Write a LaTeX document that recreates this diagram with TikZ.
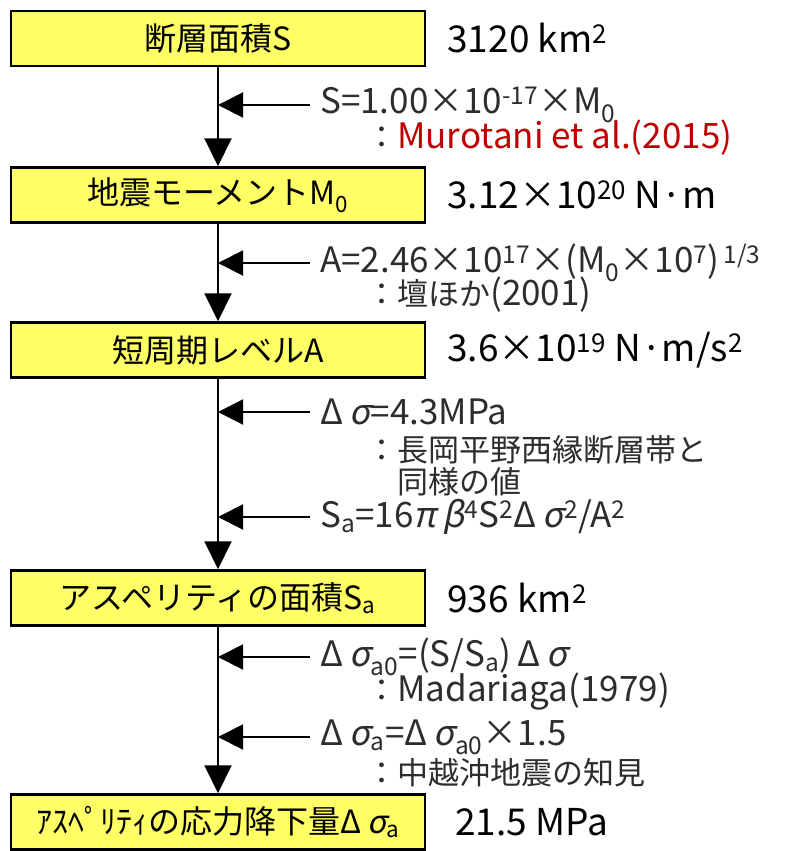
\documentclass[tikz,border=0pt]{standalone}
\usepackage{fontspec}
\setmainfont{Noto Sans CJK JP}
\newfontfamily\slgreek[FakeSlant=0.2]{Noto Sans CJK JP}
\usepackage{xcolor}
\usepackage{tikz}
\usetikzlibrary{arrows.meta,positioning}
\definecolor{boxyellow}{RGB}{255,255,102}
\definecolor{formulagray}{RGB}{45,45,45}
\definecolor{refred}{RGB}{192,0,0}
\newcommand\supx[1]{\textsuperscript{#1}}
\newcommand\subx[1]{\textsubscript{#1}}
\newcommand\sig{{\slgreek σ}}
\newcommand\dsig{Δ\hspace{0.18em}\sig}
\newcommand\lat[1]{{\fontsize{35}{32}\selectfont #1}}

\begin{document}
\begin{tikzpicture}[x=1pt, y=-1pt,
  node distance=21pt,
  box/.style={draw, line width=2.5pt, fill=boxyellow, minimum width=414pt,
    minimum height=55pt, inner sep=0pt, font=\fontsize{32}{36}\selectfont},
  val/.style={inner sep=0pt, font=\fontsize{37}{40}\selectfont},
  formula/.style={anchor=west, inner xsep=10pt, inner ysep=0pt, text=formulagray,
    font=\fontsize{35}{34}\selectfont},
  src/.style={anchor=west, inner sep=0pt, align=left, text=formulagray,
    font=\fontsize{31}{32}\selectfont},
  arr/.style={-{Triangle[length=28pt,width=27pt]}, line width=2pt},
  sidearr/.style={-{Triangle[length=25pt,width=25pt]}, line width=2pt}
]
\useasboundingbox (0,0) rectangle (792,851);
\node[box] (area) at (218,38.5) {断層面積S};
\node[box] (moment) at (218,195) {地震モーメントM\subx{0}};
\node[box] (level) at (218,350) {短周期レベルA};
\node[box] (asparea) at (218,598) {アスペリティの面積S\subx{a}};
\node[box] (aspdrop) at (218,822) {ｱｽﾍﾟﾘﾃｨの応力降下量\dsig\subx{a}};
\node[val, right=of area] (areaval) {3120 km\supx{2}};
\node[val, right=of moment] (momentval) {3.12×10\supx{20} N·m};
\node[val, right=of level] (levelval) {3.6×10\supx{19} N·m/s\supx{2}};
\node[val, right=of asparea] (aspareaval) {936 km\supx{2}};
\node[val, right=29pt of aspdrop] (aspdropval) {21.5 MPa};
\node[formula] (fm1) at (310,105) {S=1.00×10\supx{-17}×M\subx{0}};
\node[src] (rf1) at (366,138) {：\textcolor{refred}{\lat{Murotani et al.(2015)}}};
\node[formula] (fm2) at (310,263) {A=2.46×10\supx{17}×(M\subx{0}×10\supx{7})\supx{\,1/3}};
\node[src] (rf2) at (366,295) {：壇ほか\lat{(2001)}};
\node[formula] (fm3) at (310,412) {\dsig=4.3MPa};
\node[src] (rf3) at (366,466) {：長岡平野西縁断層帯と\\　同様の値};
\node[formula] (fm4) at (310,517) {S\subx{a}=16{\slgreek π}\,{\slgreek β}\supx{4}S\supx{2}\dsig\supx{2}/A\supx{2}};
\node[formula] (fm5) at (310,657) {\dsig\subx{a0}=(S/S\subx{a})\,\dsig};
\node[src] (rf5) at (366,692) {：\lat{Madariaga(1979)}};
\node[formula] (fm6) at (310,737) {\dsig\subx{a}=\dsig\subx{a0}×1.5};
\node[src] (rf6) at (366,773) {：中越沖地震の知見};
\draw[arr] (area) -- (moment);
\draw[arr] (moment) -- (level);
\draw[arr] (level) -- (asparea);
\draw[arr] (asparea) -- (aspdrop);
\draw[sidearr] (fm1.west) -- (fm1.west -| area.south);
\draw[sidearr] (fm2.west) -- (fm2.west -| area.south);
\draw[sidearr] (fm3.west) -- (fm3.west -| area.south);
\draw[sidearr] (fm4.west) -- (fm4.west -| area.south);
\draw[sidearr] (fm5.west) -- (fm5.west -| area.south);
\draw[sidearr] (fm6.west) -- (fm6.west -| area.south);
\end{tikzpicture}
\end{document}
